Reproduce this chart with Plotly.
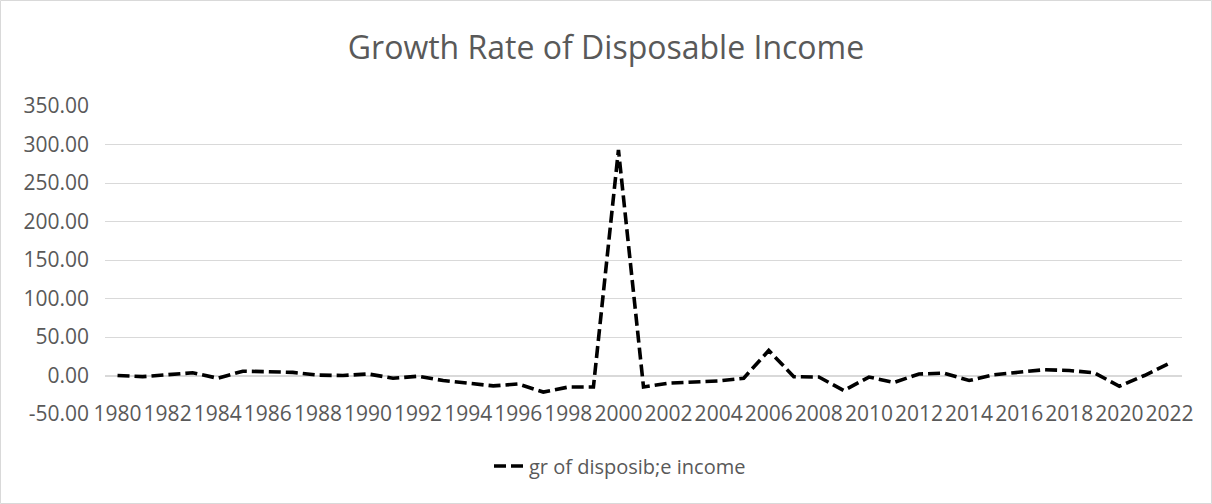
import plotly.graph_objects as go

years = list(range(1980, 2023))
growth = [0, -1.5, 1, 3.5, -3.5, 5.6, 5, 4, 0.5, 0, 2, -3.5, -1, -6.5, -10, -13.5,
          -11, -21.5, -15, -15, 293, -15, -10, -9, -7, -3.5, 32.5, -1.5, -2, -19.5,
          -2, -9, 2, 3, -6.5, 1, 4, 7.5, 6.5, 3.5, -14, 0, 16]
series_name = "gr of disposib;e income"
title_text = "Growth Rate of Disposable Income"
x_tick_years = list(range(1980, 2023, 2))
y_ticks = list(range(-50, 351, 50))

GRAY_TEXT = "#595959"
GRID = "#d9d9d9"
FONT = "Open Sans"

fig = go.Figure()
fig.add_trace(go.Scatter(
    x=years, y=growth, mode="lines", name=series_name,
    line=dict(color="black", width=3.6, dash="12px,5px"),
    showlegend=True,
))

L, R, T, B = 105, 30, 106, 90
W, H = 1212, 504
pw, ph = W - L - R, H - T - B

fig.update_layout(
    width=W, height=H,
    margin=dict(l=L, r=R, t=T, b=B, pad=0),
    paper_bgcolor="white", plot_bgcolor="white",
    font=dict(family=FONT, color=GRAY_TEXT, size=21),
    title=dict(text=title_text, x=0.5, xref="container", xanchor="center",
               y=1 - 48 / H, yref="container", yanchor="middle",
               font=dict(family=FONT, size=32, color=GRAY_TEXT)),
    showlegend=True,
    legend=dict(orientation="h", x=(620 - L) / pw, xanchor="center",
                y=(H - B - 466) / ph, yanchor="middle",
                font=dict(family=FONT, size=20, color=GRAY_TEXT),
                bgcolor="rgba(0,0,0,0)"),
    xaxis=dict(
        range=[1979.5, 2022.5], tickmode="array", tickvals=x_tick_years,
        ticktext=[str(y) for y in x_tick_years], tickangle=0,
        showgrid=False, zeroline=False, showline=False, ticks="",
        ticklabelstandoff=-15, tickfont=dict(size=21, color=GRAY_TEXT),
        fixedrange=True,
    ),
    yaxis=dict(
        range=[-50, 350], tickmode="array", tickvals=y_ticks,
        ticktext=[f"{v:.2f}" for v in y_ticks],
        showgrid=False, zeroline=True, zerolinecolor=GRID, zerolinewidth=1.5,
        showline=False, ticks="", ticklabelstandoff=15,
        tickfont=dict(size=21, color=GRAY_TEXT),
        minor=dict(tickmode="array", tickvals=[v for v in y_ticks if v > 0],
                   showgrid=True, gridcolor=GRID, gridwidth=1.2, ticks=""),
        fixedrange=True,
    ),
)

fig.add_shape(type="rect", xref="paper", yref="paper",
              x0=-(L - 0.5) / pw, x1=1 + (R - 0.5) / pw,
              y0=-(B - 0.5) / ph, y1=1 + (T - 0.5) / ph,
              line=dict(color=GRID, width=1), layer="below")

fig.write_html("out.html")
